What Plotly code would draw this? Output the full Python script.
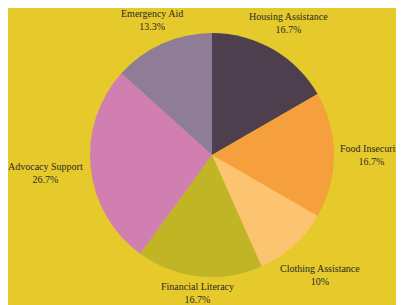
import math
import plotly.graph_objects as go

categories = ["Housing Assistance", "Food Insecurity", "Clothing Assistance",
              "Financial Literacy", "Advocacy Support", "Emergency Aid"]
values = [5, 5, 3, 5, 8, 4]
colors = ["#4E3F4E", "#F5A03C", "#FCC470", "#C0B525", "#D17EB0", "#8F7C96"]

W, H = 404, 305
ML, MR, MT, MB = 4, 0, 25, 36
FONT = dict(family="Liberation Serif", size=10, color="#2A2A2A")

fig = go.Figure(go.Pie(
    labels=categories,
    values=values,
    sort=False,
    direction="clockwise",
    rotation=0,
    marker=dict(colors=colors, line=dict(width=0)),
    textinfo="none",
    showlegend=False,
    hoverinfo="skip",
))

# Pie geometry in pixels (derived from the layout)
pw, ph = W - ML - MR, H - MT - MB
R = min(pw, ph) / 2
CX, CY = ML + pw / 2, MT + ph / 2

total = sum(values)
annotations = []
cum = 0
for lab, v in zip(categories, values):
    mid = (cum + v / 2) / total * 2 * math.pi
    cum += v
    pct = round(v / total * 100, 1)
    pct_s = (f"{pct:.1f}".rstrip("0").rstrip(".")) + "%"
    tw = max(len(lab), len(pct_s)) * 4.6
    th = 26
    sx, sy = math.sin(mid), -math.cos(mid)
    ex = min((tw / 2) / abs(sx) if abs(sx) > 1e-6 else 1e9,
             (th / 2) / abs(sy) if abs(sy) > 1e-6 else 1e9)
    gap = 3 + 28 * abs(math.sin(2 * mid)) * abs(sx)
    d = R + gap + ex
    px, py = CX + d * sx, CY + d * sy
    annotations.append(dict(
        x=(px - ML) / pw, y=(H - MB - py) / ph, xref="paper", yref="paper",
        text=f"{lab}<br>{pct_s}", showarrow=False, font=FONT,
        xanchor="center", yanchor="middle", align="center",
    ))

fig.update_layout(
    width=W, height=H,
    paper_bgcolor="#E6C92A",
    plot_bgcolor="#E6C92A",
    margin=dict(l=ML, r=MR, t=MT, b=MB),
    annotations=annotations,
)

fig.write_html("out.html")
